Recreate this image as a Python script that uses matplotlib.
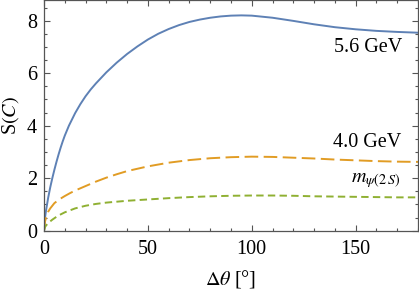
import matplotlib
matplotlib.use("Agg")
import matplotlib.pyplot as plt
from matplotlib.ticker import MultipleLocator

# ---------------- DATA ----------------
theta_blue = [0, 0.5, 1, 2, 3, 4, 5, 6, 7, 8, 9, 10, 12, 15, 17.5, 20, 22.5,
              25, 30, 35, 40, 45, 50, 55, 60, 65, 70, 75, 80, 85, 90, 95,
              100, 110, 120, 130, 140, 150, 160, 170, 180]
s_56 = [0, 0.5, 0.78, 1.25, 1.65, 2.0, 2.32, 2.62, 2.9, 3.16, 3.4, 3.62,
        4.0, 4.48, 4.82, 5.12, 5.38, 5.61, 6.03, 6.4, 6.73, 7.02, 7.28,
        7.5, 7.68, 7.83, 7.95, 8.04, 8.11, 8.16, 8.19, 8.2, 8.19, 8.11, 7.99,
        7.86, 7.75, 7.67, 7.61, 7.57, 7.54]

theta_orange = [0, 0.5, 1, 2, 3, 5, 7.5, 10, 12.5, 15, 20, 25, 30, 35, 40,
                50, 60, 70, 80, 90, 100, 110, 120, 130, 140, 150, 160, 170,
                180]
s_40 = [0, 0.35, 0.5, 0.72, 0.85, 1.05, 1.2, 1.32, 1.43, 1.53, 1.7, 1.87,
        2.02, 2.15, 2.27, 2.45, 2.59, 2.69, 2.76, 2.8, 2.82, 2.81, 2.78,
        2.75, 2.71, 2.68, 2.65, 2.63, 2.62]

theta_green = [0, 0.5, 1, 2, 4, 6, 8, 10, 15, 20, 25, 30, 40, 50, 60, 70,
               80, 90, 100, 110, 120, 130, 140, 150, 160, 170, 180]
s_psi = [0, 0.14, 0.2, 0.29, 0.42, 0.53, 0.62, 0.7, 0.85, 0.95, 1.02, 1.07,
         1.14, 1.19, 1.24, 1.28, 1.31, 1.33, 1.34, 1.34, 1.33, 1.31, 1.3,
         1.29, 1.28, 1.27, 1.27]

x_ticks = [0, 50, 100, 150]
y_ticks = [0, 2, 4, 6, 8]
# ---------------------------------------------------------------

plt.rcParams["font.family"] = ["Liberation Serif", "DejaVu Serif"]
plt.rcParams["mathtext.fontset"] = "stix"
FS = 14.5

fig = plt.figure(figsize=(4.19, 2.93), dpi=100)
ax = fig.add_axes([0.105, 0.2126, 0.8926, 0.786])

ax.plot(theta_blue, s_56, color="#5E81B5", lw=1.4)
ax.plot(theta_orange, s_40, color="#E19C24", lw=1.4, dashes=(7, 2.8))
ax.plot(theta_green, s_psi, color="#8FB032", lw=1.4, dashes=(3.8, 2.2))

ax.set_xlim(0, 180)
ax.set_ylim(0, 8.77)
ax.set_xticks(x_ticks)
ax.set_yticks(y_ticks)
ax.xaxis.set_minor_locator(MultipleLocator(10))
ax.yaxis.set_minor_locator(MultipleLocator(0.5))

frame = "#555555"
for sp in ax.spines.values():
    sp.set_color(frame)
    sp.set_linewidth(0.9)
ax.tick_params(which="both", direction="in", top=True, right=True,
               color=frame, width=0.8, labelsize=FS, labelcolor="black")
ax.tick_params(which="major", length=4.5)
ax.tick_params(which="minor", length=2.3)
ax.tick_params(axis="x", pad=7)
ax.tick_params(axis="y", pad=5)

ax.set_xlabel(r"$\Delta\theta$ [°]", fontsize=FS, labelpad=6)
ax.set_ylabel(r"S$(C)$", fontsize=FS, labelpad=4)

ax.text(172.5, 6.98, "5.6 GeV", fontsize=FS, ha="right", va="center")
ax.text(172.0, 3.35, "4.0 GeV", fontsize=FS, ha="right", va="center")
ax.text(171.5, 1.9, r"$m_{\psi(2\,S)}$", fontsize=FS, ha="right", va="center")

fig.savefig("out.png", dpi=100)
